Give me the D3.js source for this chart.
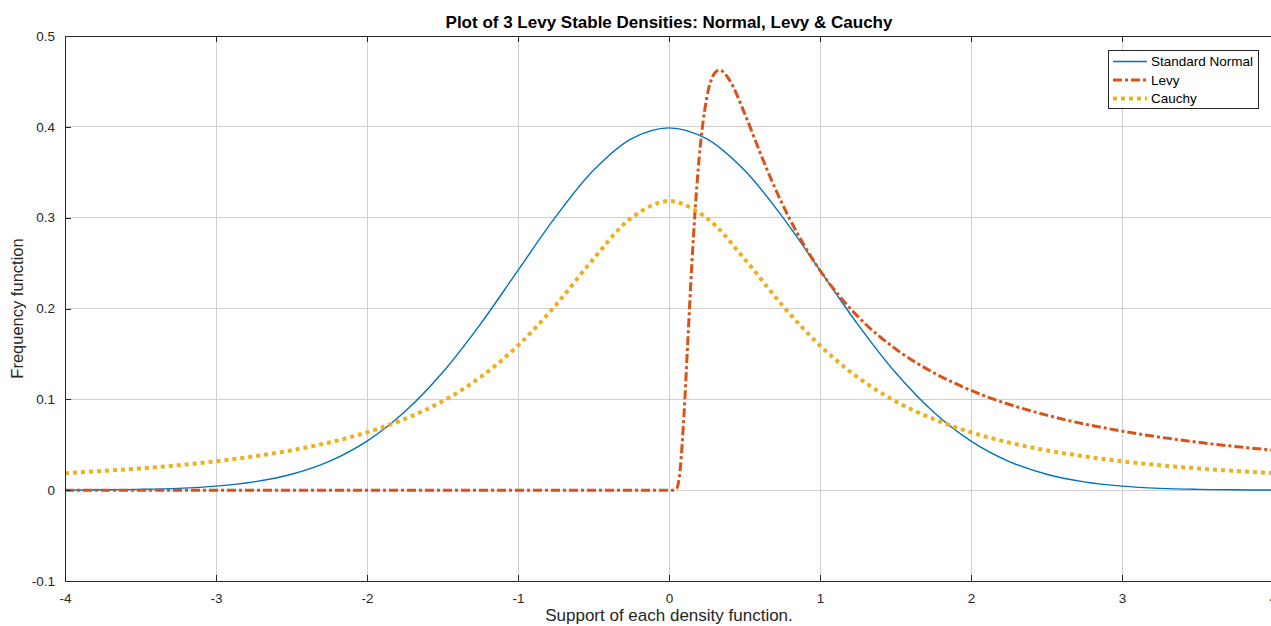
<!DOCTYPE html>
<html><head><meta charset="utf-8">
<script src="https://cdn.jsdelivr.net/npm/d3@7"></script>
<style>
html,body{margin:0;padding:0;background:#fff;overflow:hidden;}
svg{display:block;font-family:"Liberation Sans",Arial,Helvetica,sans-serif;}
</style></head>
<body>
<svg id="chart" width="1271" height="626"></svg>
<script>
// ---- data ----
const titleText = "Plot of 3 Levy Stable Densities: Normal, Levy & Cauchy";
const xLabel = "Support of each density function.";
const yLabel = "Frequency function";
const xTicks = [-4, -3, -2, -1, 0, 1, 2, 3, 4];
const xTickLabels = ["-4", "-3", "-2", "-1", "0", "1", "2", "3", "4"];
const yTicks = [-0.1, 0, 0.1, 0.2, 0.3, 0.4, 0.5];
const yTickLabels = ["-0.1", "0", "0.1", "0.2", "0.3", "0.4", "0.5"];
const seriesNames = ["Standard Normal", "Levy", "Cauchy"];

const symX = [-4,-3.75,-3.5,-3.25,-3,-2.75,-2.5,-2.25,-2,-1.75,-1.5,-1.25,-1,-0.75,-0.5,-0.25,
  0,0.25,0.5,0.75,1,1.25,1.5,1.75,2,2.25,2.5,2.75,3,3.25,3.5,3.75,4];
const normalY = [0.0001,0.0004,0.0009,0.0020,0.0044,0.0091,0.0175,0.0317,0.0540,0.0863,0.1295,0.1826,0.2420,0.3011,0.3521,0.3867,
  0.3989,0.3867,0.3521,0.3011,0.2420,0.1826,0.1295,0.0863,0.0540,0.0317,0.0175,0.0091,0.0044,0.0020,0.0009,0.0004,0.0001];
const cauchyY = [0.0187,0.0211,0.0240,0.0275,0.0318,0.0372,0.0439,0.0525,0.0637,0.0784,0.0979,0.1242,0.1592,0.2037,0.2546,0.2996,
  0.3183,0.2996,0.2546,0.2037,0.1592,0.1242,0.0979,0.0784,0.0637,0.0525,0.0439,0.0372,0.0318,0.0275,0.0240,0.0211,0.0187];
const levyX = [-4,-2,0,0.025,0.05,0.075,0.1,0.125,0.15,0.175,0.2,0.25,0.3,0.333,0.35,0.4,0.5,0.6,0.7,0.8,0.9,1,1.25,1.5,1.75,2,2.5,3,3.5,4];
const levyY = [0,0,0,0,0.0016,0.0247,0.0850,0.1654,0.2449,0.3129,0.3661,0.4319,0.4586,0.4626,0.4617,0.4517,0.4151,0.3730,0.3334,0.2984,0.2681,0.2420,0.1913,0.1556,0.1295,0.1098,0.0826,0.0650,0.0528,0.0440];

const colors = ["#0072BD", "#D95319", "#EDB120"];

// ---- drawing ----
const svg = d3.select("#chart");
const L = 65, T = 36, B = 581, R = 1273;
const x = d3.scaleLinear().domain([-4, 4]).range([L, R]);
const y = d3.scaleLinear().domain([-0.1, 0.5]).range([B, T]);
const axisCol = "#262626";

// grid
const g = svg.append("g");
g.selectAll(".gx").data(xTicks).join("line")
  .attr("x1", d => x(d)).attr("x2", d => x(d)).attr("y1", T).attr("y2", B)
  .attr("stroke", "#d0d0d0").attr("stroke-width", 1).attr("shape-rendering","crispEdges");
g.selectAll(".gy").data(yTicks).join("line")
  .attr("x1", L).attr("x2", R).attr("y1", d => y(d)).attr("y2", d => y(d))
  .attr("stroke", "#d0d0d0").attr("stroke-width", 1).attr("shape-rendering","crispEdges");

// series
const line = d3.line().x(d => x(d[0])).y(d => y(d[1])).curve(d3.curveMonotoneX);
const lineCat = d3.line().x(d => x(d[0])).y(d => y(d[1])).curve(d3.curveCatmullRom.alpha(0.5));
const normalPts = symX.map((v, i) => [v, normalY[i]]);
const cauchyPts = symX.map((v, i) => [v, cauchyY[i]]);
const levyPts = levyX.map((v, i) => [v, levyY[i]]);

svg.append("path").attr("d", lineCat(normalPts)).attr("fill","none")
  .attr("stroke", colors[0]).attr("stroke-width", 1.4);
svg.append("path").attr("d", line(levyPts)).attr("fill","none")
  .attr("stroke", colors[1]).attr("stroke-width", 3).attr("stroke-dasharray","9,3,3,3");
svg.append("path").attr("d", lineCat(cauchyPts)).attr("fill","none")
  .attr("stroke", colors[2]).attr("stroke-width", 4).attr("stroke-dasharray","4,4");

// axes
const xAxisB = d3.axisBottom(x).tickValues(xTicks).tickSizeInner(-6).tickSizeOuter(0).tickPadding(12)
  .tickFormat((d, i) => xTickLabels[i]);
const xAxisT = d3.axisTop(x).tickValues(xTicks).tickSizeInner(-6).tickSizeOuter(0).tickFormat("");
const yAxisL = d3.axisLeft(y).tickValues(yTicks).tickSizeInner(-6).tickSizeOuter(0).tickPadding(10)
  .tickFormat((d, i) => yTickLabels[i]);

function style(sel){
  sel.selectAll("path").attr("stroke", axisCol).attr("stroke-width", 1).attr("shape-rendering","crispEdges");
  sel.selectAll("line").attr("stroke", axisCol).attr("stroke-width", 1).attr("shape-rendering","crispEdges");
  sel.selectAll("text").attr("fill", axisCol).style("font-size","13.5px").style("font-family","'Liberation Sans',Arial,sans-serif");
}
svg.append("g").attr("transform", `translate(0,${B})`).call(xAxisB).call(style);
svg.append("g").attr("transform", `translate(0,${T})`).call(xAxisT).call(style);
svg.append("g").attr("transform", `translate(${L},0)`).call(yAxisL).call(style);

// title & labels
svg.append("text").attr("x", 669).attr("y", 28).attr("text-anchor","middle")
  .style("font-size","17px").style("font-weight","bold").attr("fill","#000").text(titleText);
svg.append("text").attr("x", 669).attr("y", 621).attr("text-anchor","middle")
  .style("font-size","17px").attr("fill", axisCol).text(xLabel);
svg.append("text").attr("transform", `translate(23,${(T+B)/2}) rotate(-90)`).attr("text-anchor","middle")
  .style("font-size","16.5px").attr("fill", axisCol).text(yLabel);

// legend
const lg = svg.append("g").attr("transform","translate(1108,50)");
lg.append("rect").attr("x",0.5).attr("y",0.5).attr("width",150).attr("height",58)
  .attr("fill","#fff").attr("stroke","#262626").attr("stroke-width",1);
const dashes = [null, "9,3,3,3", "4,4"];
const widths = [1.4, 3, 4];
seriesNames.forEach((n, i) => {
  const yy = 11.5 + i * 18.5;
  lg.append("line").attr("x1", 5).attr("x2", 39).attr("y1", yy).attr("y2", yy)
    .attr("stroke", colors[i]).attr("stroke-width", widths[i])
    .attr("stroke-dasharray", dashes[i]);
  lg.append("text").attr("x", 43).attr("y", yy + 4.5).style("font-size","13.5px").attr("fill","#000").text(n);
});
</script>
</body></html>
